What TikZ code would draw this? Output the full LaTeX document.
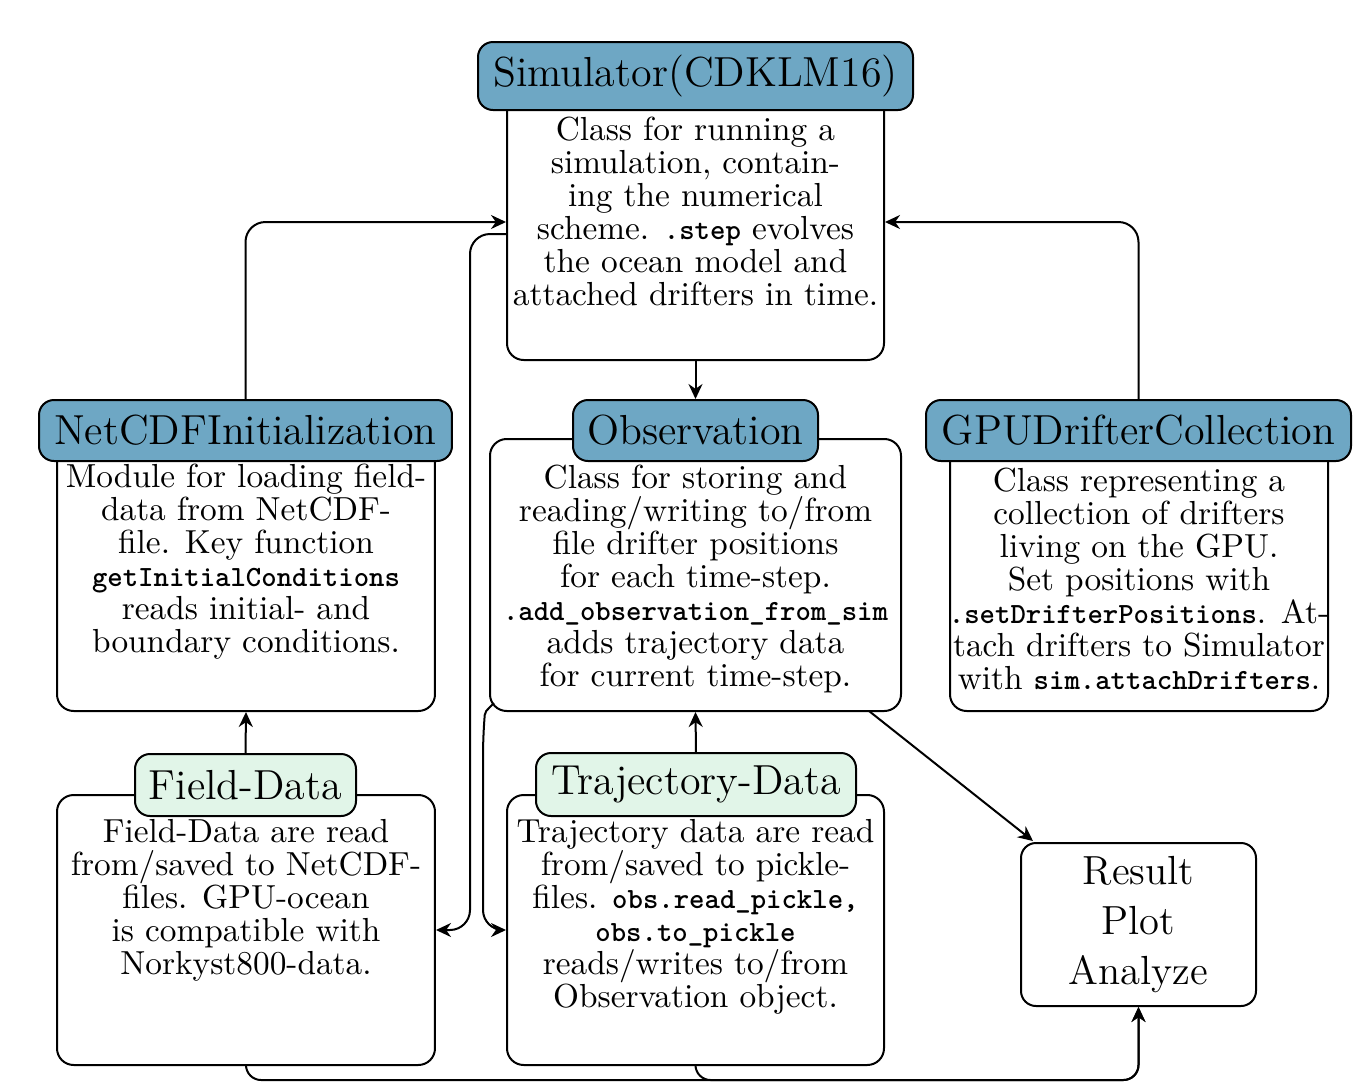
\documentclass[tikz,border=0pt]{standalone}
\usetikzlibrary{arrows.meta}
\definecolor{titleblue}{RGB}{110,167,196}
\definecolor{titlegreen}{RGB}{225,245,232}
\tikzset{
  conn/.style={line width=0.6pt, -{Stealth[length=4.5pt,width=4.2pt]}},
  bodybox/.style={draw, line width=0.6pt, rounded corners=5pt, fill=white, inner sep=0pt},
  titlebox/.style={draw, line width=0.6pt, rounded corners=4.5pt, inner sep=0pt, font=\fontsize{12.6}{15}\selectfont},
  bluetitle/.style={titlebox, fill=titleblue},
  greentitle/.style={titlebox, fill=titlegreen},
  bodytext/.style={align=center, inner sep=0pt, font=\fontsize{10}{9.9}\selectfont},
}
\newcommand\cod[1]{{\fontsize{8.8}{9.9}\selectfont\ttfamily\bfseries #1}}
\begin{document}
\begin{tikzpicture}[x=0.3pt,y=-0.3pt]
\useasboundingbox (0,0) rectangle (1372,1084);
% bodies
\node[bodybox, minimum width=113.1pt, minimum height=85.2pt] (simbody) at (695.5,218) {};
\node[bodybox, minimum width=113.4pt, minimum height=84.3pt] (ncbody) at (246,570.5) {};
\node[bodybox, minimum width=123.3pt, minimum height=81.6pt] (obsbody) at (695.5,575) {};
\node[bodybox, minimum width=113.4pt, minimum height=84.3pt] (gpubody) at (1139,570.5) {};
\node[bodybox, minimum width=113.4pt, minimum height=81pt] (fdbody) at (246,930) {};
\node[bodybox, minimum width=113.1pt, minimum height=81pt] (trbody) at (695.5,930) {};
\node[draw, line width=0.6pt, rounded corners=4.5pt, minimum width=70.5pt, minimum height=48.9pt, align=center, inner sep=0pt, font=\fontsize{12.2}{15}\selectfont] (result) at (1138.5,924.5) {Result\\Plot\\Analyze};
% titles
\node[bluetitle, minimum width=130.5pt, minimum height=20.4pt] (simtitle) at (695.5,76) {Simulator(CDKLM16)};
\node[bluetitle, minimum width=123.9pt, minimum height=18.3pt] (nctitle) at (245.5,430.5) {NetCDFInitialization};
\node[bluetitle, minimum width=73.5pt, minimum height=18.3pt] (obstitle) at (695.5,430.5) {Observation};
\node[bluetitle, minimum width=127.5pt, minimum height=18.3pt] (gputitle) at (1138.5,430.5) {GPUDrifterCollection};
\node[greentitle, minimum width=66.3pt, minimum height=18.6pt] (fdtitle) at (245.5,785) {Field-Data};
\node[greentitle, minimum width=96pt, minimum height=18.9pt] (trtitle) at (696,784.5) {Trajectory-Data};
% texts
\node[bodytext] (simtext) at (695.5,211) {Class for running a\\simulation, contain-\\ing the numerical\\scheme. \cod{.step} evolves\\the ocean model and\\attached drifters in time.};
\node[bodytext] (nctext) at (246,562) {Module for loading field-\\data from NetCDF-\\file. Key function\\\cod{getInitialConditions}\\reads initial- and\\boundary conditions.};
\node[bodytext] (obstext) at (695.5,578.5) {Class for storing and\\reading/writing to/from\\file drifter positions\\for each time-step.\\\cod{.add\_observation\_from\_sim}\\adds trajectory data\\for current time-step.};
\node[bodytext] (gputext) at (1139,578.5) {Class representing a\\collection of drifters\\living on the GPU.\\Set positions with\\\cod{.setDrifterPositions}. At-\\tach drifters to Simulator\\with \cod{sim.attachDrifters}.};
\node[bodytext] (fdtext) at (246,900.5) {Field-Data are read\\from/saved to NetCDF-\\files. GPU-ocean\\is compatible with\\Norkyst800-data.};
\node[bodytext] (trtext) at (695.5,917) {Trajectory data are read\\from/saved to pickle-\\files. \cod{obs.read\_pickle,}\\\cod{obs.to\_pickle}\\reads/writes to/from\\Observation object.};
% coordinates
\coordinate (simL) at (simbody.west |- 0,222);
\coordinate (simL2) at (simbody.west |- 0,234);
\coordinate (simR) at (simbody.east |- 0,222);
\coordinate (obsBL) at (494,703);
\coordinate (obsOut) at (869,711);
\coordinate (resIn) at (1033,841);
\coordinate (bus) at (result.south |- 0,1080);
% connectors
\draw[conn] (simbody.south) -- (obstitle.north);
\draw[conn, rounded corners=6pt] (nctitle.north) |- (simL);
\draw[conn, rounded corners=6pt] (gputitle.north) |- (simR);
\draw[conn, rounded corners=6pt] (simL2) -- (470,234) -- (470,930) -- (fdbody.east);
\draw[conn, rounded corners=6pt] (obsBL) .. controls (485,712) .. (483,735) -- (483,930) -- (trbody.west);
\draw[conn] (fdtitle.north) -- (ncbody.south);
\draw[conn] (trtitle.north) -- (obsbody.south);
\draw[conn] (obsOut) -- (resIn);
\draw[conn, rounded corners=4.5pt] (fdbody.south) |- (bus) -- (result.south);
\draw[conn, rounded corners=4.5pt] (trbody.south) |- (bus) -- (result.south);
\end{tikzpicture}
\end{document}
